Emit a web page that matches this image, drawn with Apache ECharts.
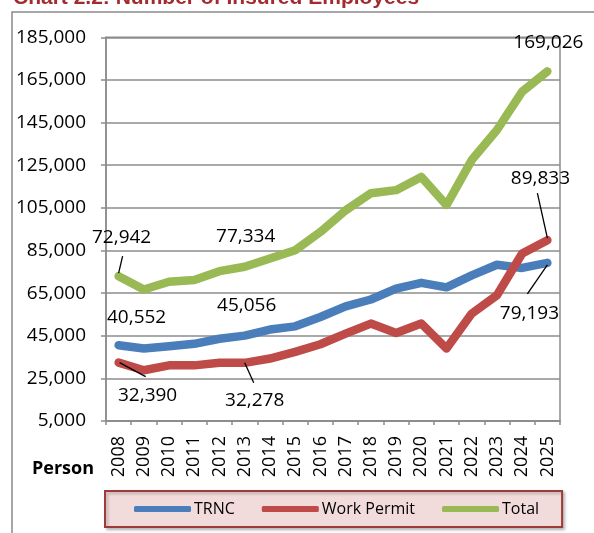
<!DOCTYPE html>
<html>
<head>
<meta charset="utf-8">
<script src="https://cdn.jsdelivr.net/npm/echarts@6/dist/echarts.min.js"></script>
<style>
html,body{margin:0;padding:0;background:#fff;}
#chart{width:594px;height:533px;}
</style>
</head>
<body>
<div id="chart"></div>
<script>
// ---- data ----
var years = ['2008','2009','2010','2011','2012','2013','2014','2015','2016','2017','2018','2019','2020','2021','2022','2023','2024','2025'];
var trnc = [40552, 39000, 40100, 41200, 43600, 45056, 47900, 49400, 53800, 58800, 62000, 67100, 69800, 67700, 73300, 78300, 76800, 79193];
var workPermit = [32390, 28800, 31100, 31100, 32300, 32278, 34300, 37400, 41000, 46000, 50700, 46300, 50700, 39000, 55400, 64000, 83600, 89833];
var total = [72942, 66700, 70300, 71100, 75300, 77334, 81200, 85100, 93700, 103800, 111800, 113300, 119500, 106300, 127400, 141500, 159500, 169026];
var seriesNames = ['TRNC', 'Work Permit', 'Total'];
var titleText = 'Chart 2.2: Number of Insured Employees';
var yUnitLabel = 'Person';

// labelled points (series index, category index) and label placement offsets
var annotations = [
  {s: 2, i: 0, dx: 3, dy: -39, lead: [4, -20, 0, -3]},
  {s: 2, i: 5, dx: 1, dy: -30},
  {s: 2, i: 17, dx: 1, dy: -29},
  {s: 0, i: 0, dx: 18, dy: -28},
  {s: 0, i: 5, dx: 2, dy: -30},
  {s: 0, i: 17, dx: -18, dy: 51, lead: [-20, 31, 0, 2]},
  {s: 1, i: 0, dx: 29, dy: 33, lead: [1, 0, 27, 14]},
  {s: 1, i: 5, dx: 10, dy: 38, lead: [0, 0, 9, 20]},
  {s: 1, i: 17, dx: -7, dy: -62, lead: [-10, -47, 0, -2]}
];

var colors = ['#4A7EBB', '#BE4B48', '#98B954'];
var FONT = '"Open Sans", "Liberation Sans", sans-serif';
var gridColor = '#8C8C8C';

function fmt(v) { return v.toString().replace(/\B(?=(\d{3})+(?!\d))/g, ','); }

var chart = echarts.init(document.getElementById('chart'), null, {renderer: 'canvas'});
var allData = [trnc, workPermit, total];

var option = {
  animation: false,
  backgroundColor: '#fff',
  textStyle: {fontFamily: FONT},
  grid: {left: 106, right: 34, top: 37.3, bottom: 112, show: true, borderColor: gridColor, borderWidth: 1.5, containLabel: false},
  xAxis: {
    type: 'category',
    data: years,
    boundaryGap: true,
    axisLine: {lineStyle: {color: gridColor, width: 1.5}},
    axisTick: {show: true, length: 4, lineStyle: {color: gridColor, width: 1.5}},
    axisLabel: {rotate: 90, margin: 15, fontSize: 18, color: '#000', fontFamily: FONT, interval: 0}
  },
  yAxis: {
    type: 'value',
    min: 5000, max: 185000, interval: 20000,
    axisLine: {show: true, lineStyle: {color: gridColor, width: 1.5}},
    axisTick: {show: true, length: 5, lineStyle: {color: gridColor, width: 1.5}},
    splitLine: {show: true, lineStyle: {color: gridColor, width: 1.5}},
    axisLabel: {fontSize: 19, color: '#000', margin: 20, fontFamily: FONT, formatter: function (v) { return fmt(v); }}
  },
  legend: {
    data: seriesNames,
    left: 105, top: 491,
    width: 463,
    itemWidth: 57, itemHeight: 6, itemGap: 27,
    icon: 'roundRect',
    padding: [8, 23, 8, 29],
    backgroundColor: '#F2DCDB',
    borderColor: '#9E3A38',
    borderWidth: 2,
    borderRadius: 0,
    shadowColor: 'rgba(0,0,0,0.25)', shadowBlur: 3, shadowOffsetX: 2, shadowOffsetY: 2,
    textStyle: {fontSize: 16, color: '#000', fontFamily: FONT, lineHeight: 20, padding: [0, 0, 0, -2]}
  },
  series: seriesNames.map(function (name, k) {
    return {
      name: name,
      type: 'line',
      data: allData[k],
      showSymbol: false,
      symbol: 'none',
      color: colors[k],
      lineStyle: {width: 8.5, color: colors[k], cap: 'round', join: 'round'},
      z: 2 + k
    };
  })
};
chart.setOption(option);

var graphics = [
  {type: 'polyline', shape: {points: [[12, 534], [12, 12], [595, 12]]}, style: {stroke: '#8A8A8A', lineWidth: 1.5, fill: null}, z: 1},
  {type: 'text', x: 13, y: -2, style: {text: titleText, font: 'bold 21px "Liberation Sans", sans-serif', fill: '#A32A2E', verticalAlign: 'middle', align: 'left'}, z: 10},
  {type: 'text', x: 94, y: 469, style: {text: yUnitLabel, font: 'bold 18px ' + FONT, fill: '#000', verticalAlign: 'middle', align: 'right'}, z: 10}
];
annotations.forEach(function (a) {
  var v = allData[a.s][a.i];
  var p = chart.convertToPixel({gridIndex: 0}, [a.i, v]);
  graphics.push({type: 'text', x: p[0] + a.dx, y: p[1] + a.dy,
    style: {text: fmt(v), font: '19px ' + FONT, fill: '#000', align: 'center', verticalAlign: 'middle'}, z: 20});
  if (a.lead) {
    graphics.push({type: 'line', shape: {x1: p[0] + a.lead[0], y1: p[1] + a.lead[1], x2: p[0] + a.lead[2], y2: p[1] + a.lead[3]},
      style: {stroke: '#000', lineWidth: 1.3}, z: 20});
  }
});
chart.setOption({graphic: graphics});
</script>
</body>
</html>
